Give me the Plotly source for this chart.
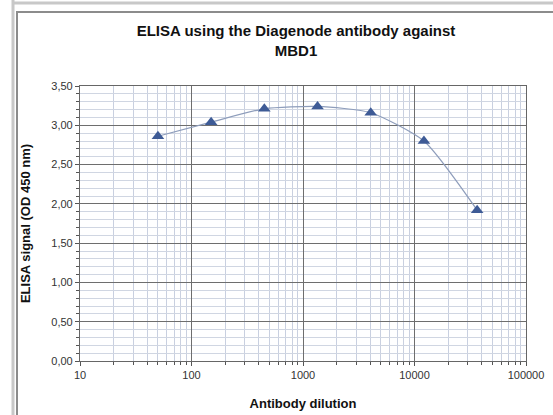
import plotly.graph_objects as go

dilution = [50, 150, 450, 1350, 4050, 12150, 36450]
signal = [2.86, 3.04, 3.21, 3.24, 3.16, 2.80, 1.92]

x_major = [10, 100, 1000, 10000, 100000]
x_major_text = ["10", "100", "1000", "10000", "100000"]
x_minor = [m * 10 ** d for d in range(1, 5) for m in range(2, 10)]

W, H = 553, 415
L, R, T, B = 80, 27, 86, 54
pw, ph = W - L - R, H - T - B

def px(x):
    return (x - L) / pw

def py(y):
    return (H - B - y) / ph

FONT = "Liberation Sans, Arial, sans-serif"

fig = go.Figure()
fig.add_trace(go.Scatter(
    x=dilution, y=signal, mode="lines+markers",
    line=dict(color="#8e9dbb", width=1.2, shape="spline", smoothing=0.6),
    marker=dict(symbol="triangle-up", size=11, color="#3e5b96"),
    showlegend=False,
))

axis_font = dict(family=FONT, size=11, color="#333333")
fig.update_layout(
    width=W, height=H,
    margin=dict(l=L, r=R, t=T, b=B, autoexpand=False),
    paper_bgcolor="white", plot_bgcolor="white",
    separators=",.",
    title=dict(
        text="<b>ELISA using the Diagenode antibody against<br>MBD1</b>",
        x=px(296), xref="paper", xanchor="center",
        y=1 - 36 / H, yanchor="top",
        font=dict(family=FONT, size=15, color="#111111"),
    ),
    xaxis=dict(
        type="log", range=[1, 5], automargin=False,
        tickvals=x_major, ticktext=x_major_text,
        tickfont=axis_font,
        showgrid=True, gridcolor="#6e6e6e", gridwidth=1.4,
        showline=True, linecolor="#666666", linewidth=1.2, mirror=True,
        ticks="outside", ticklen=4, tickcolor="#555555",
        minor=dict(tickvals=x_minor, showgrid=True, gridcolor="#c9d0e0", gridwidth=1,
                   ticks="outside", ticklen=3, tickcolor="#555555"),
        title=dict(text="<b>Antibody dilution</b>", standoff=18,
                   font=dict(family=FONT, size=13, color="#111111")),
        zeroline=False,
    ),
    yaxis=dict(
        range=[0, 3.5], dtick=0.5, tickformat=".2f", automargin=False,
        tickfont=axis_font,
        showgrid=True, gridcolor="#6e6e6e", gridwidth=1.4,
        showline=True, linecolor="#666666", linewidth=1.2, mirror=True,
        ticks="outside", ticklen=4, tickcolor="#555555",
        minor=dict(dtick=0.1, showgrid=True, gridcolor="#d0d6e2", gridwidth=1,
                   ticks="outside", ticklen=3, tickcolor="#555555"),
        title=dict(text="<b>ELISA signal (OD 450 nm)</b>", standoff=17,
                   font=dict(family=FONT, size=13, color="#111111")),
        zeroline=False,
    ),
    shapes=[
        dict(type="line", xref="paper", yref="paper", x0=px(13), x1=px(13), y0=py(0), y1=py(H),
             line=dict(color="#c8c8c8", width=3)),
        dict(type="line", xref="paper", yref="paper", x0=px(13), x1=px(W + 5), y0=py(3), y1=py(3),
             line=dict(color="#c8c8c8", width=3)),
        dict(type="line", xref="paper", yref="paper", x0=px(17), x1=px(17), y0=py(11), y1=py(H + 5),
             line=dict(color="#8c8c8c", width=2)),
        dict(type="line", xref="paper", yref="paper", x0=px(17), x1=px(W + 5), y0=py(12), y1=py(12),
             line=dict(color="#8c8c8c", width=2)),
    ],
)

fig.write_html("out.html", config={"displayModeBar": False},
               post_script="document.body.style.margin='0px';document.body.style.overflow='hidden';")
